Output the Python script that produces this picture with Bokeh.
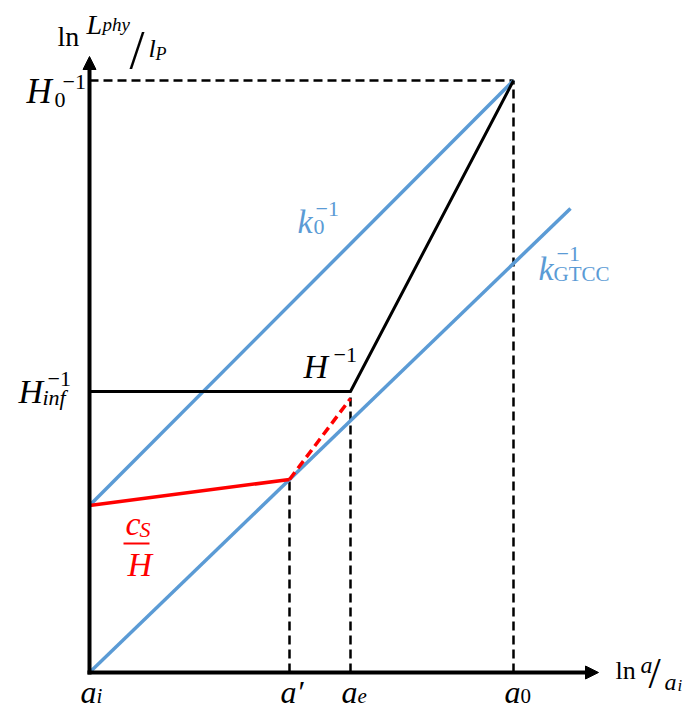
from bokeh.plotting import figure
from bokeh.models import Range1d, Arrow, NormalHead
from bokeh.core.properties import value
from bokeh.embed import file_html
from bokeh.resources import INLINE

# Schematic: ln(L_phy / l_P) against ln(a / a_i)
tick_names = ["a_i", "a'", "a_e", "a_0"]
tick_x = [0.0, 2.00, 2.61, 4.24]          # a_i, a', a_e, a_0
H_inf = 2.81                               # inflationary Hubble radius
H_0 = 5.92                                 # present Hubble radius

hubble_x = [0.0, 2.61, 4.24]               # H^-1
hubble_y = [2.81, 2.81, 5.92]
k0_x = [0.0, 4.24]                         # k_0^-1
k0_y = [1.67, 5.92]
kg_x = [0.0, 4.81]                         # k_GTCC^-1
kg_y = [0.0, 4.64]
cs_x = [0.0, 2.00]                         # c_S / H (solid)
cs_y = [1.67, 1.93]
cs_dash_x = [2.00, 2.61]                   # c_S / H (dashed continuation)
cs_dash_y = [1.93, 2.74]

x_tip = 5.09
y_tip = 6.16

BLUE = "#5B9BD5"
RED = "#FF0000"
BLACK = "#000000"
SERIF = "Liberation Serif"
PX = 0.01      # data units per screen pixel
DY_FIX = -9    # baseline correction for the text glyphs, pixels

p = figure(width=688, height=709,
           x_range=Range1d(-0.89, 5.99), y_range=Range1d(-0.37, 6.72),
           output_backend="svg", toolbar_location=None,
           x_axis_location=None, y_axis_location=None, min_border=0)
p.grid.visible = False
p.outline_line_color = None
p.background_fill_color = "white"

# guide lines
dash = "9 5"
p.segment(x0=[tick_x[1], tick_x[2], tick_x[3]], y0=[0, 0, 0],
          x1=[tick_x[1], tick_x[2], tick_x[3]], y1=[cs_y[1], H_inf, H_0],
          line_color=BLACK, line_width=2.5, line_dash=dash)
p.segment(x0=[0], y0=[H_0], x1=[tick_x[3]], y1=[H_0],
          line_color=BLACK, line_width=2.5, line_dash=dash)

# curves
p.line(k0_x, k0_y, line_color=BLUE, line_width=3.5)
p.line(kg_x, kg_y, line_color=BLUE, line_width=3.5)
p.line(hubble_x, hubble_y, line_color=BLACK, line_width=3)
p.line(cs_x, cs_y, line_color=RED, line_width=3.5)
p.line(cs_dash_x, cs_dash_y, line_color=RED, line_width=3.5, line_dash="9 5")

# axes with arrow heads
for xs, ys, xe, ye in [(-0.02, 0, x_tip, 0), (0, -0.02, 0, y_tip)]:
    p.add_layout(Arrow(end=NormalHead(size=13, fill_color=BLACK, line_color=BLACK),
                       x_start=xs, y_start=ys, x_end=xe, y_end=ye,
                       line_color=BLACK, line_width=4))


def put(x, y, parts, color=BLACK):
    """Draw a composed math label; parts are (text, dx, dy, size, style)."""
    for t, dx, dy, size, style in parts:
        p.text(x=[x], y=[y], text=[t], x_offset=dx, y_offset=dy + DY_FIX,
               text_font=value(SERIF), text_font_size=f"{size}px",
               text_font_style=style, text_color=color,
               text_align="left", text_baseline="alphabetic")


# tick labels on the x axis
subs = ["i", "\u2032", "e", "0"]
for xv, sub in zip(tick_x, subs):
    if sub == "\u2032":
        put(xv, 0, [("a" + sub, -9, 28, 32, "italic")])
    else:
        put(xv, 0, [("a", -9, 28, 32, "italic"),
                    (sub, 7, 32, 21, "normal" if sub == "0" else "italic")])

# tick labels on the y axis
put(0, H_0, [("H", -63, 20, 35, "italic"),
             ("0", -35, 28, 22, "normal"),
             ("\u22121", -27, 10, 22, "normal")])
put(0, H_inf, [("H", -71, 9, 34, "italic"),
               ("inf", -47, 15, 22, "italic"),
               ("\u22121", -42, -4, 22, "normal")])

# curve labels
put(tick_x[2], H_inf, [("H", -47, -16, 34, "italic"),
                       ("\u22121", -17, -28, 22, "normal")])
put(tick_x[1], k0_y[0] + tick_x[1] * (k0_y[1] - k0_y[0]) / k0_x[1],
    [("k", 8, -75, 34, "italic"),
     ("0", 24, -69, 22, "normal"),
     ("\u22121", 26, -87, 22, "normal")], color=BLUE)
put(tick_x[3], kg_y[1] * tick_x[3] / kg_x[1],
    [("k", 25, 14, 34, "italic"),
     ("GTCC", 40, 20, 21, "normal"),
     ("\u22121", 43, 0, 22, "normal")], color=BLUE)

# c_S / H fraction
put(cs_x[0], cs_y[0], [("c", 36, 27, 34, "italic"),
                       ("S", 50, 33, 22, "italic"),
                       ("H", 38, 68, 34, "italic")], color=RED)
p.segment(x0=[cs_x[0] + 34 * PX], y0=[cs_y[0] - 38 * PX],
          x1=[cs_x[0] + 60 * PX], y1=[cs_y[0] - 38 * PX],
          line_color=RED, line_width=2)

# axis titles
put(0, y_tip, [("ln", -32, -11, 28, "normal"),
               ("L", -3, -23, 28, "italic"),
               ("phy", 13, -23, 19, "italic"),
               ("/", 40, 2, 54, "normal"),
               ("l", 59, 1, 26, "italic"),
               ("P", 66, 6, 18, "italic")])
put(x_tip, 0, [("ln", 17, 7, 26, "normal"),
               ("a", 42, 1, 24, "italic"),
               ("/", 50, 10, 44, "normal"),
               ("a", 66, 18, 24, "italic"),
               ("i", 79, 22, 17, "italic")])

open("out.html", "w").write(file_html(p, INLINE))
